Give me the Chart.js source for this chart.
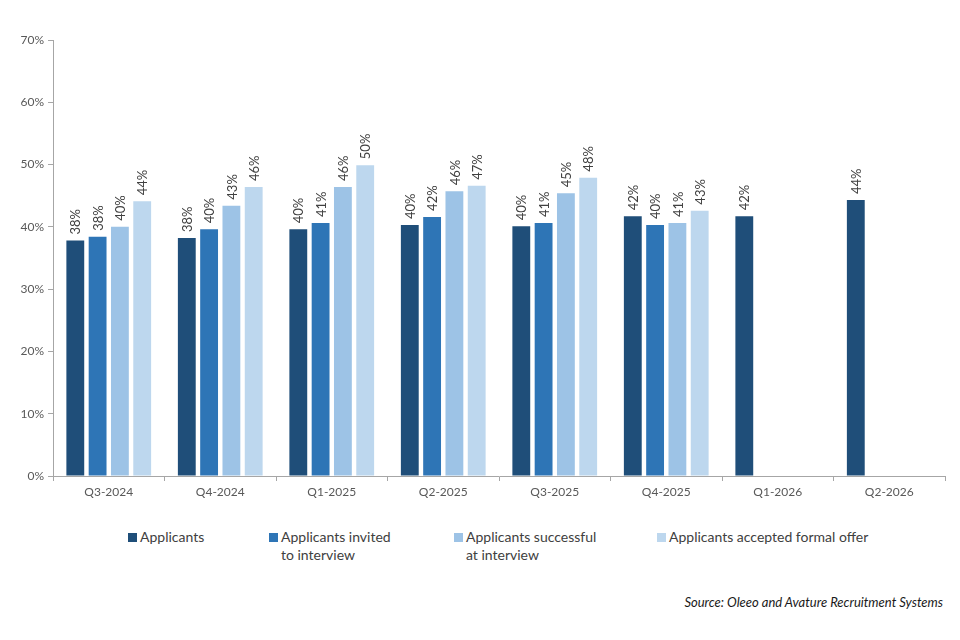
<!DOCTYPE html>
<html lang="en">
<head>
    <meta charset="UTF-8">
    <title>Applicants by stage</title>
    <script src="https://cdn.jsdelivr.net/npm/chart.js"></script>
    <style>
        body { margin: 0; background: #fff; font-family: Lato, "Open Sans", sans-serif; }
        #wrap { position: relative; width: 960px; height: 640px; }
        #chartBox { position: absolute; left: 0; top: 0; width: 960px; height: 506px; }
        .leg { position: absolute; top: 528px; font-size: 14px; line-height: 18px; color: #404040; }
        .leg i { position: absolute; left: -12px; top: 5px; width: 9px; height: 9px; }
        #source { position: absolute; right: 17px; top: 594px; font-size: 13px; font-style: italic; color: #1a1a1a; }
    </style>
</head>
<body>
<div id="wrap">
    <div id="chartBox"><canvas id="stageChart"></canvas></div>
    <div id="legend"></div>
    <div id="source">Source: Oleeo and Avature Recruitment Systems</div>
</div>

<script>
    // quarters on the x axis
    const quarters = ['Q3-2024', 'Q4-2024', 'Q1-2025', 'Q2-2025', 'Q3-2025', 'Q4-2025', 'Q1-2026', 'Q2-2026'];

    // series values (percent)
    const applicants = [37.8, 38.2, 39.6, 40.3, 40.1, 41.7, 41.7, 44.3];
    const invited    = [38.4, 39.6, 40.6, 41.6, 40.6, 40.3, null, null];
    const successful = [40.0, 43.4, 46.4, 45.7, 45.4, 40.6, null, null];
    const accepted   = [44.1, 46.4, 49.9, 46.6, 47.9, 42.6, null, null];

    const seriesNames = [
        ['Applicants'],
        ['Applicants invited', 'to interview'],
        ['Applicants successful', 'at interview'],
        ['Applicants accepted formal offer']
    ];
    const seriesColors = ['#1F4E79', '#2E75B6', '#9DC3E6', '#BDD7EE'];
    const yTicks = [0, 10, 20, 30, 40, 50, 60, 70];

    // legend positions (px from left)
    const legendLeft = [140, 281, 466, 669];

    const axisGrey = '#A6A6A6';

    // rotated value labels above bars
    const barLabels = {
        id: 'barLabels',
        afterDatasetsDraw(chart) {
            const ctx = chart.ctx;
            chart.data.datasets.forEach((ds, i) => {
                chart.getDatasetMeta(i).data.forEach((bar, j) => {
                    const v = ds.data[j];
                    if (v == null) return;
                    ctx.save();
                    ctx.translate(bar.x + 1, bar.y - 6);
                    ctx.rotate(-Math.PI / 2);
                    ctx.font = '13px Lato';
                    ctx.fillStyle = '#404040';
                    ctx.textAlign = 'left';
                    ctx.textBaseline = 'middle';
                    ctx.fillText(Math.round(v) + '%', 0, 0);
                    ctx.restore();
                });
            });
        }
    };

    const allSeries = [applicants, invited, successful, accepted];

    const ctx = document.getElementById('stageChart').getContext('2d');
    new Chart(ctx, {
        type: 'bar',
        data: {
            labels: quarters,
            datasets: allSeries.map((d, i) => ({
                label: seriesNames[i].join(' '),
                data: d,
                backgroundColor: seriesColors[i],
                categoryPercentage: 0.8,
                barPercentage: 0.8
            }))
        },
        options: {
            responsive: true,
            maintainAspectRatio: false,
            animation: false,
            layout: { padding: { top: 40, right: 15, left: 0, bottom: 0 } },
            plugins: {
                legend: { display: false },
                tooltip: { enabled: false }
            },
            scales: {
                x: {
                    grid: { display: true, drawOnChartArea: false, offset: true, tickLength: 5, color: axisGrey },
                    border: { display: true, color: axisGrey },
                    ticks: { color: '#595959', font: { family: 'Lato', size: 12 }, padding: 4, maxRotation: 0 },
                    afterFit(scale) { scale.height = 30; }
                },
                y: {
                    min: 0,
                    max: 70,
                    afterBuildTicks(scale) { scale.ticks = yTicks.map(v => ({ value: v })); },
                    grid: { display: true, drawOnChartArea: false, tickLength: 5, color: axisGrey },
                    border: { display: true, color: axisGrey },
                    ticks: {
                        color: '#595959',
                        font: { family: 'Lato', size: 12 },
                        padding: 4,
                        callback: v => v + '%'
                    },
                    afterFit(scale) { scale.width = 53; }
                }
            }
        },
        plugins: [barLabels]
    });

    // html legend with two-line labels
    const legend = document.getElementById('legend');
    seriesNames.forEach((lines, i) => {
        const el = document.createElement('div');
        el.className = 'leg';
        el.style.left = legendLeft[i] + 'px';
        el.innerHTML = '<i style="background:' + seriesColors[i] + '"></i>' + lines.join('<br>');
        legend.appendChild(el);
    });
</script>
</body>
</html>
